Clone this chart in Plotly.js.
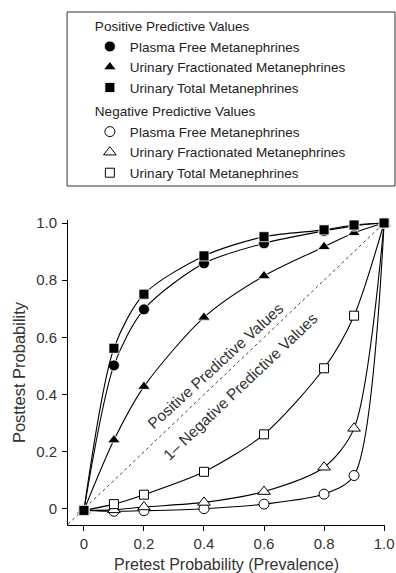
<!DOCTYPE html>
<html><head><meta charset="utf-8">
<script src="https://cdn.plot.ly/plotly-3.0.1.min.js"></script>
<style>html,body{margin:0;padding:0;background:#fff}#chart{width:396px;height:573px}</style>
</head><body><div id="chart"></div>
<script>
const prevalence = [0, 0.1, 0.2, 0.4, 0.6, 0.8, 0.9, 1.0];
const ppvPlasmaFree = [-0.005, 0.502, 0.698, 0.859, 0.929, 0.972, 0.990, 1.0];
const ppvUrinaryFract = [-0.005, 0.241, 0.428, 0.670, 0.815, 0.917, 0.966, 1.0];
const ppvUrinaryTotal = [-0.005, 0.562, 0.751, 0.885, 0.952, 0.976, 0.993, 1.0];
const npvPlasmaFree = [-0.005, -0.008, -0.006, 0.001, 0.017, 0.052, 0.117, 1.0];
const npvUrinaryFract = [-0.005, -0.003, 0.007, 0.023, 0.061, 0.146, 0.282, 1.0];
const npvUrinaryTotal = [-0.005, 0.017, 0.050, 0.130, 0.261, 0.492, 0.676, 1.0];
const xTickVals = [0, 0.2, 0.4, 0.6, 0.8, 1.0];
const xTickText = ['0', '0.2', '0.4', '0.6', '0.8', '1.0'];
const yTickVals = [0, 0.2, 0.4, 0.6, 0.8, 1.0];
const yTickText = ['0', '0.2', '0.4', '0.6', '0.8', '1.0'];

const FONT = 'Liberation Sans, Arial, Helvetica, sans-serif';
const posTitle = 'Positive Predictive Values';
const negTitle = 'Negative Predictive Values';

function mk(symbol, filled, size) {
  return {symbol: symbol, size: size, color: filled ? '#000' : '#fff',
          line: {color: filled ? '#fff' : '#000', width: filled ? 0.8 : 1}};
}
function tr(name, y, symbol, filled, size) {
  return {
    type: 'scatter', mode: 'lines+markers', x: prevalence, y: y, name: name, showlegend: false,
    line: {color: '#000', width: 1.1, shape: 'spline', smoothing: 0.8},
    marker: mk(symbol, filled, size), cliponaxis: false
  };
}
function leg(name, symbol, filled, size, group, rank) {
  return {
    type: 'scatter', mode: 'markers', x: [null], y: [null], name: name, showlegend: true,
    legendgroup: group, legendrank: rank,
    legendgrouptitle: {text: group === 'pos' ? posTitle : negTitle, font: {size: 13.5, color: '#222', family: FONT}},
    marker: mk(symbol, filled, size)
  };
}

const data = [
  tr('Plasma Free Metanephrines', npvPlasmaFree, 'circle', false, 10),
  tr('Urinary Fractionated Metanephrines', npvUrinaryFract, 'triangle-up', false, 11),
  tr('Urinary Total Metanephrines', npvUrinaryTotal, 'square', false, 9),
  tr('Urinary Fractionated Metanephrines', ppvUrinaryFract, 'triangle-up', true, 11),
  tr('Plasma Free Metanephrines', ppvPlasmaFree, 'circle', true, 11),
  tr('Urinary Total Metanephrines', ppvUrinaryTotal, 'square', true, 10),
  leg('Plasma Free Metanephrines', 'circle', true, 11, 'pos', 1),
  leg('Urinary Fractionated Metanephrines', 'triangle-up', true, 11, 'pos', 2),
  leg('Urinary Total Metanephrines', 'square', true, 10, 'pos', 3),
  leg('Plasma Free Metanephrines', 'circle', false, 10, 'neg', 4),
  leg('Urinary Fractionated Metanephrines', 'triangle-up', false, 11, 'neg', 5),
  leg('Urinary Total Metanephrines', 'square', false, 9, 'neg', 6)
];

const xr = [-0.053, 1.003], yr = [-0.056, 1.0105];

const layout = {
  width: 396, height: 573,
  margin: {l: 68, r: 11, t: 220, b: 48, autoexpand: false},
  paper_bgcolor: '#fff', plot_bgcolor: '#fff',
  font: {family: FONT, color: '#333', size: 14},
  showlegend: true,
  legend: {xref: 'paper', yref: 'paper', x: 0.069, y: 1.6866, xanchor: 'left', yanchor: 'top',
           bgcolor: 'rgba(0,0,0,0)', borderwidth: 0, tracegroupgap: 3,
           font: {size: 13.5, color: '#222', family: FONT}, itemclick: false},
  xaxis: {range: xr, showgrid: false, zeroline: false, showline: true, linecolor: '#000', linewidth: 1,
          ticks: 'outside', ticklen: 5, tickcolor: '#000', tickvals: xTickVals, ticktext: xTickText,
          tickfont: {size: 15, color: '#333'},
          title: {text: 'Pretest Probability (Prevalence)', font: {size: 16, color: '#333'}}},
  yaxis: {range: yr, showgrid: false, zeroline: false, showline: true, linecolor: '#000', linewidth: 1,
          ticks: 'outside', ticklen: 5, tickcolor: '#000', tickvals: yTickVals, ticktext: yTickText,
          ticklabelstandoff: 2,
          tickfont: {size: 15, color: '#333'},
          title: {text: 'Posttest Probability', font: {size: 16.5, color: '#333'}}},
  shapes: [
    {type: 'line', xref: 'x', yref: 'y', x0: xr[0], y0: xr[0], x1: 1, y1: 1, layer: 'below',
     line: {color: '#444', width: 1, dash: 'dot'}},
    {type: 'rect', xref: 'paper', yref: 'paper', x0: -0.003, x1: 1.0315, y0: 1.1115, y1: 1.682,
     line: {color: '#333', width: 1}, fillcolor: 'rgba(0,0,0,0)'}
  ],
  annotations: [
    {x: 0.44, y: 0.50, xref: 'x', yref: 'y', text: 'Positive Predictive Values', showarrow: false,
     textangle: -42.5, font: {size: 15.5, color: '#333'}},
    {x: 0.52, y: 0.43, xref: 'x', yref: 'y', text: '1\u2013 Negative Predictive Values', showarrow: false,
     textangle: -43.5, font: {size: 15.5, color: '#333'}}
  ]
};

Plotly.newPlot('chart', data, layout, {displayModeBar: false, staticPlot: true});
</script></body></html>
